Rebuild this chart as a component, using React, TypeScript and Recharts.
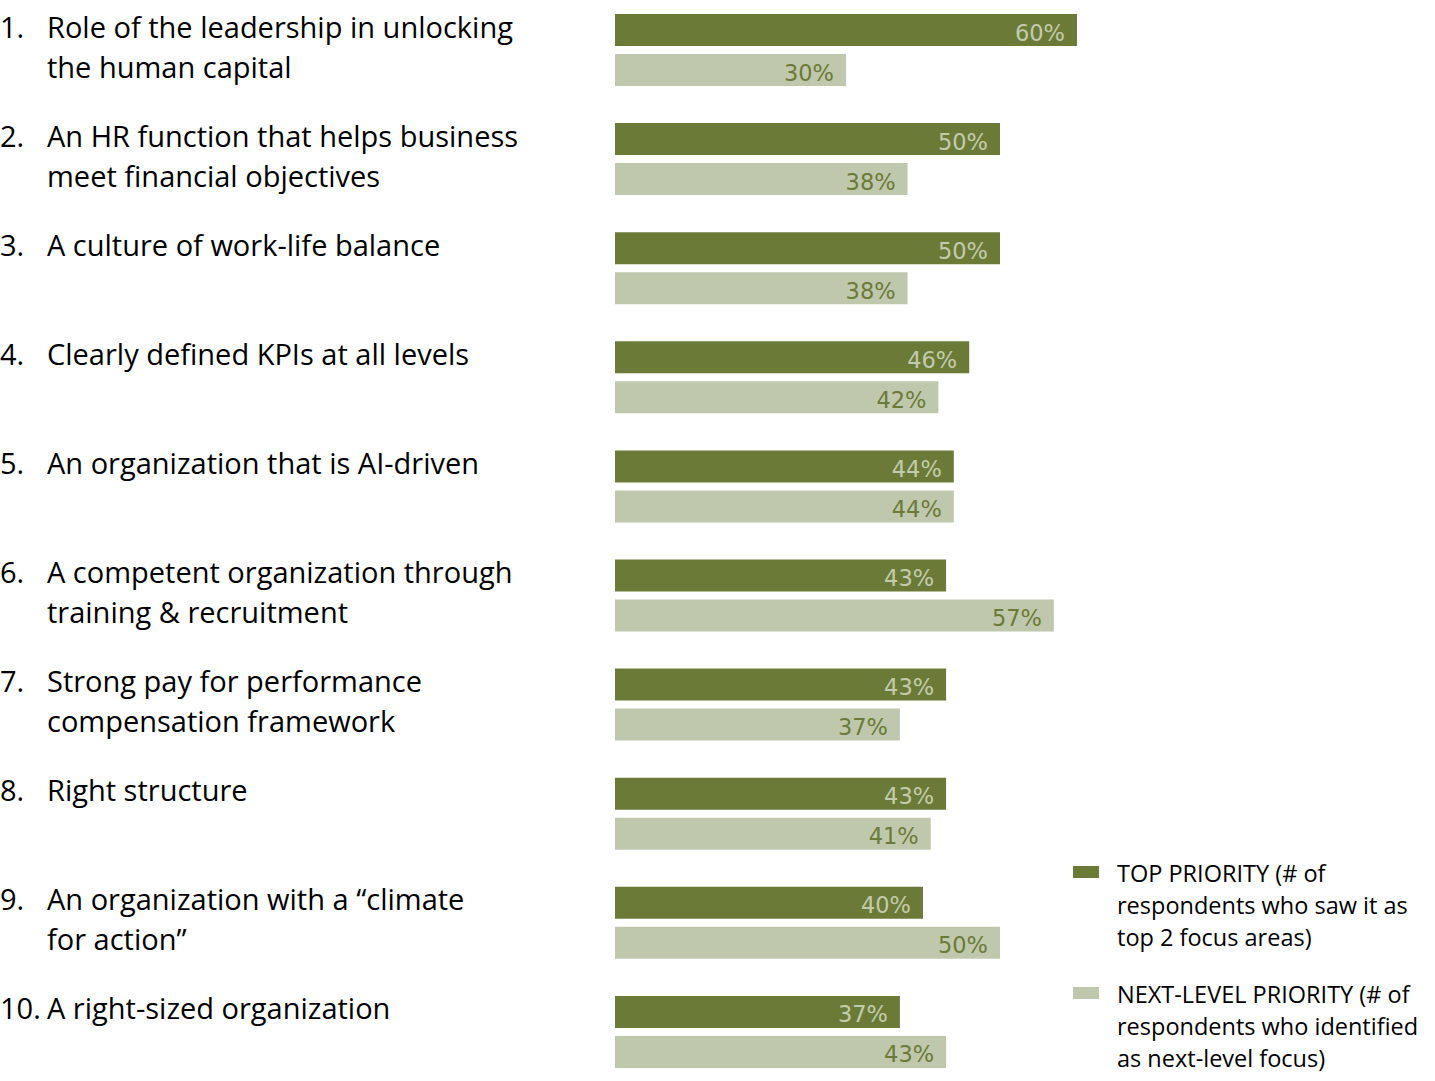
import React from 'react'
import { BarChart, Bar, XAxis, YAxis, LabelList, Legend } from 'recharts'

const CATEGORY_LINES: string[][] = [
  ['Role of the leadership in unlocking', 'the human capital'],
  ['An HR function that helps business', 'meet financial objectives'],
  ['A culture of work-life balance'],
  ['Clearly defined KPIs at all levels'],
  ['An organization that is AI-driven'],
  ['A competent organization through', 'training & recruitment'],
  ['Strong pay for performance', 'compensation framework'],
  ['Right structure'],
  ['An organization with a \u201cclimate', 'for action\u201d'],
  ['A right-sized organization'],
]
const TOP_PRIORITY = [60, 50, 50, 46, 44, 43, 43, 43, 40, 37]
const NEXT_LEVEL = [30, 38, 38, 42, 44, 57, 37, 41, 50, 43]

const LEGEND_ORDER = ['top', 'next']
const LEGEND_LINES: Record<string, string[]> = {
  top: ['TOP PRIORITY (# of', 'respondents who saw it as', 'top 2 focus areas)'],
  next: ['NEXT-LEVEL PRIORITY (# of', 'respondents who identified', 'as next-level focus)'],
}

const DARK = '#6b7b37'
const LIGHT = '#bfc8ac'
const LABEL_FONT = '"Open Sans", Lato, sans-serif'

const rows = CATEGORY_LINES.map((_, i) => ({ idx: i, top: TOP_PRIORITY[i], next: NEXT_LEVEL[i] }))

function CategoryTick({ y, payload }: any) {
  const i = Number(payload.value)
  const lines = CATEGORY_LINES[i]
  const base = y - 12
  return (
    <g fontFamily={LABEL_FONT} fontSize={29} fill="#000">
      <text x={0} y={base}>{`${i + 1}.`}</text>
      {lines.map((l, k) => <text key={k} x={47} y={base + k * 40}>{l}</text>)}
    </g>
  )
}

const valueLabel = (color: string) => (p: any) => {
  const { x, y, width, value } = p
  return (
    <text x={Number(x) + Number(width) - 12} y={Number(y) + 26.5} textAnchor="end"
      fontFamily='"DejaVu Sans", sans-serif' fontSize={22.5} fill={color}>{`${value}%`}</text>
  )
}

function LegendBox({ payload }: any) {
  const items = LEGEND_ORDER.map(k => (payload ?? []).find((p: any) => p.dataKey === k)).filter(Boolean)
  return (
    <div style={{ fontFamily: LABEL_FONT, fontSize: 23.5, lineHeight: '32px', color: '#000' }}>
      {items.map((p: any) => (
        <div key={p.dataKey} style={{ position: 'relative', paddingLeft: 44, marginBottom: 25 }}>
          <span style={{ position: 'absolute', left: 0, top: 9, width: 26, height: 12, background: p.color }} />
          {LEGEND_LINES[p.dataKey].map((l, k) => <div key={k} style={{ whiteSpace: 'nowrap' }}>{l}</div>)}
        </div>
      ))}
    </div>
  )
}

export default function App() {
  return (
    <div style={{ position: 'fixed', left: 0, top: 0, width: 1435, height: 1081, overflow: 'hidden', background: '#fff' }}>
      <div style={{ position: 'absolute', left: 0, top: -5 }}>
        <BarChart width={1435} height={1091} data={rows} layout="vertical"
          margin={{ top: 0, right: 50, bottom: 0, left: 0 }} barSize={32} barGap={8}>
          <XAxis type="number" domain={[0, 100]} hide />
          <YAxis type="category" dataKey="idx" width={615} axisLine={false} tickLine={false} tick={<CategoryTick />} interval={0} />
          <Legend layout="vertical" align="center" verticalAlign="middle" content={<LegendBox />}
            wrapperStyle={{ left: 1073, top: 862, width: 362 }} />
          <Bar dataKey="top" name="TOP PRIORITY" fill={DARK} isAnimationActive={false}>
            <LabelList dataKey="top" content={valueLabel('#c3cbad')} />
          </Bar>
          <Bar dataKey="next" name="NEXT-LEVEL PRIORITY" fill={LIGHT} isAnimationActive={false}>
            <LabelList dataKey="next" content={valueLabel(DARK)} />
          </Bar>
        </BarChart>
      </div>
    </div>
  )
}
